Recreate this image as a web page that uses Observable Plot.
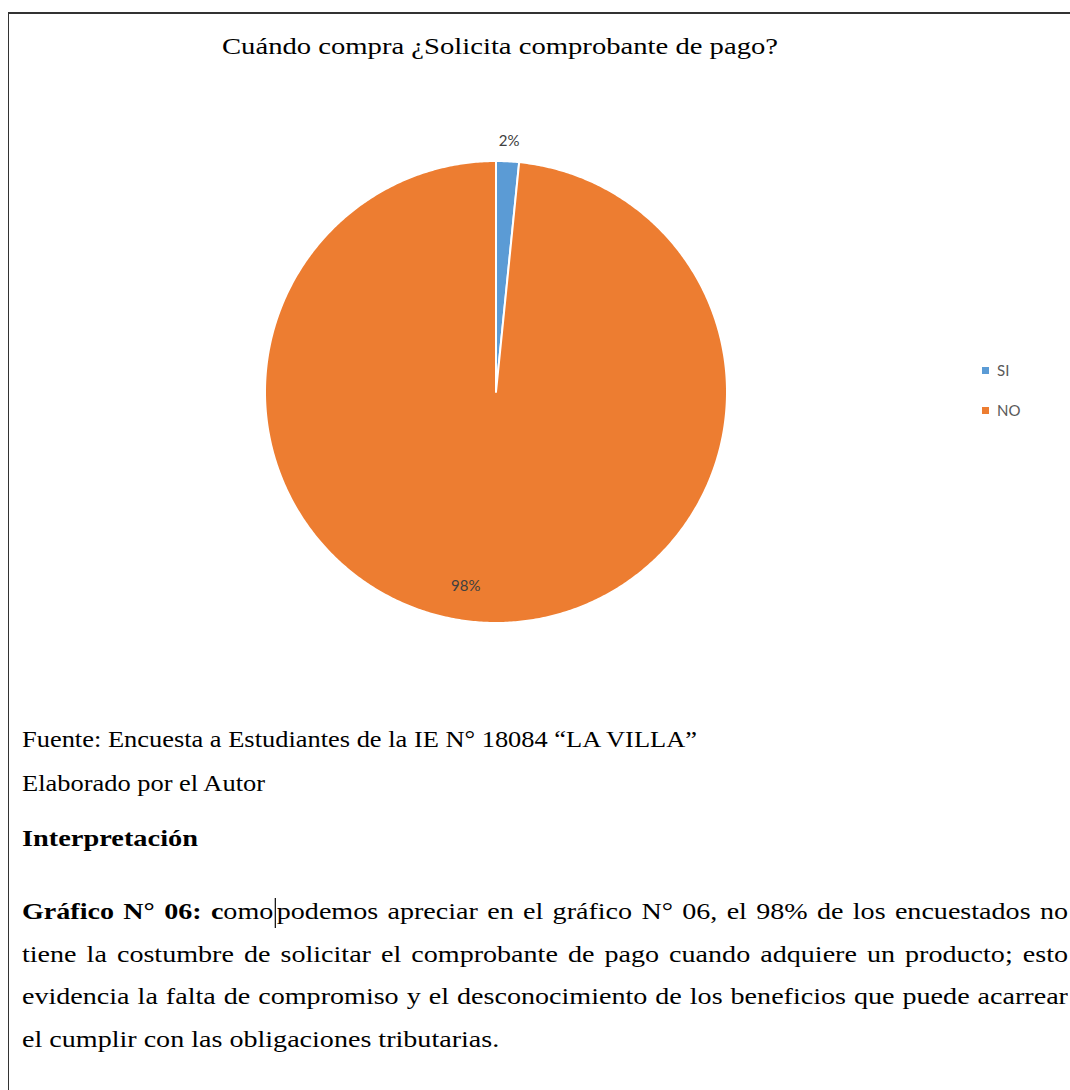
<!DOCTYPE html>
<html>
<head>
<meta charset="utf-8">
<script src="https://cdn.jsdelivr.net/npm/d3@7"></script>
<script src="https://cdn.jsdelivr.net/npm/@observablehq/plot@0.6"></script>
<style>
  html, body { margin: 0; padding: 0; background: #fff; }
  body { width: 1070px; height: 1090px; position: relative; overflow: hidden; font-family: "Liberation Serif", "Times New Roman", serif; color: #000; }
  #frame { position: absolute; left: 8px; top: 12px; width: 1100px; height: 1100px; border-left: 1.5px solid #333; border-top: 2px solid #333; }
  #title { position: absolute; left: 222px; top: 34px; font-size: 23px; white-space: nowrap; transform-origin: 0 0; }
  #chart { position: absolute; left: 0; top: 0; }
  #legend { position: absolute; left: 982px; top: 358px; font-family: Lato, "Open Sans", sans-serif; font-size: 15px; color: #595959; }
  #legend .item { display: flex; align-items: center; height: 24px; margin-bottom: 16px; }
  #legend .sw { width: 7px; height: 7px; margin-right: 8px; }
  .line { position: absolute; left: 22px; font-size: 23px; white-space: nowrap; transform-origin: 0 0; }
  .para { position: absolute; left: 22px; width: 894px; font-size: 24px; transform: scaleX(1.17); transform-origin: 0 0; }
  .para div { height: 42.5px; line-height: 42.5px; text-align: justify; text-align-last: justify; white-space: nowrap; }
  .para div.last { text-align-last: left; }
  .cursor { display: inline-block; width: 0; height: 30px; border-left: 1px solid #000; vertical-align: middle; margin: 0 1px; }
</style>
</head>
<body>
<div id="frame"></div>
<div id="chart"></div>
<div id="title"></div>
<div id="legend"></div>
<div class="line fit" data-w="675" style="top:727px">Fuente: Encuesta a Estudiantes de la IE N° 18084 “LA VILLA”</div>
<div class="line fit" data-w="243" style="top:771px">Elaborado por el Autor</div>
<div class="line fit" data-w="176" style="top:826px; font-weight:bold">Interpretación</div>
<div class="para" style="top:890px">
  <div><b>Gráfico N° 06: c</b>omo<span class="cursor"></span>podemos apreciar en el gráfico N° 06, el 98% de los encuestados no</div>
  <div>tiene la costumbre de solicitar el comprobante de pago cuando adquiere un producto; esto</div>
  <div>evidencia la falta de compromiso y el desconocimiento de los beneficios que puede acarrear</div>
  <div class="last">el cumplir con las obligaciones tributarias.</div>
</div>
<script>
// ---- data ----
const title = "Cuándo compra ¿Solicita comprobante de pago?";
const categories = ["SI", "NO"];
const values = [1.6, 98.4];
const labels = ["2%", "98%"];
const colors = ["#5B9BD5", "#ED7D31"];

const t = document.getElementById("title");
t.textContent = title;
t.classList.add("fit");
t.dataset.w = "556";

// ---- pie geometry (unit radius) ----
const pie = d3.pie().sort(null).startAngle(0).endAngle(2 * Math.PI)(values);
const arcPoints = [];
pie.forEach((p, i) => {
  const n = Math.max(2, Math.ceil((p.endAngle - p.startAngle) / (Math.PI / 360)));
  for (let k = 0; k <= n; k++) {
    const a = p.startAngle + (p.endAngle - p.startAngle) * k / n;
    arcPoints.push({cat: categories[i], x: Math.sin(a), y: Math.cos(a)});
  }
});
const labelRadius = [1.09, 0.84];
const labelShift = [0, -21];
const labelData = pie.map((p, i) => {
  const a = (p.startAngle + p.endAngle) / 2;
  return {text: labels[i], x: labelRadius[i] * Math.sin(a), y: labelRadius[i] * Math.cos(a), i};
});

// layout: center at (496, 392) px, radius 231 px, in a 1070x680 svg
const W = 1070, H = 680, cx = 496, cy = 392, R = 231;
const labelFont = "Lato, 'Open Sans', sans-serif";
const chart = Plot.plot({
  width: W, height: H,
  margin: 0,
  x: {domain: [-cx / R, (W - cx) / R], range: [0, W], axis: null},
  y: {domain: [-(H - cy) / R, cy / R], range: [H, 0], axis: null},
  color: {domain: categories, range: colors},
  style: {background: "transparent", overflow: "visible"},
  marks: [
    Plot.area(arcPoints, {x1: () => 0, y1: () => 0, x2: "x", y2: "y", z: "cat", fill: "cat", stroke: "white", strokeWidth: 2, strokeLinejoin: "round"}),
    Plot.text(labelData.filter(d => d.i === 0), {x: "x", y: "y", text: "text", fill: "#404040", fontSize: 15, fontFamily: labelFont, dx: labelShift[0]}),
    Plot.text(labelData.filter(d => d.i === 1), {x: "x", y: "y", text: "text", fill: "#404040", fontSize: 15, fontFamily: labelFont, dx: labelShift[1]})
  ]
});
document.getElementById("chart").appendChild(chart);

// legend
const lg = document.getElementById("legend");
categories.forEach((c, i) => {
  const it = document.createElement("div");
  it.className = "item";
  it.innerHTML = `<span class="sw" style="background:${colors[i]}"></span><span>${c}</span>`;
  lg.appendChild(it);
});

// stretch text lines horizontally to match the reference widths
document.querySelectorAll(".fit").forEach(el => {
  const w = el.getBoundingClientRect().width;
  el.style.transform = `scaleX(${(+el.dataset.w) / w})`;
});
</script>
</body>
</html>
